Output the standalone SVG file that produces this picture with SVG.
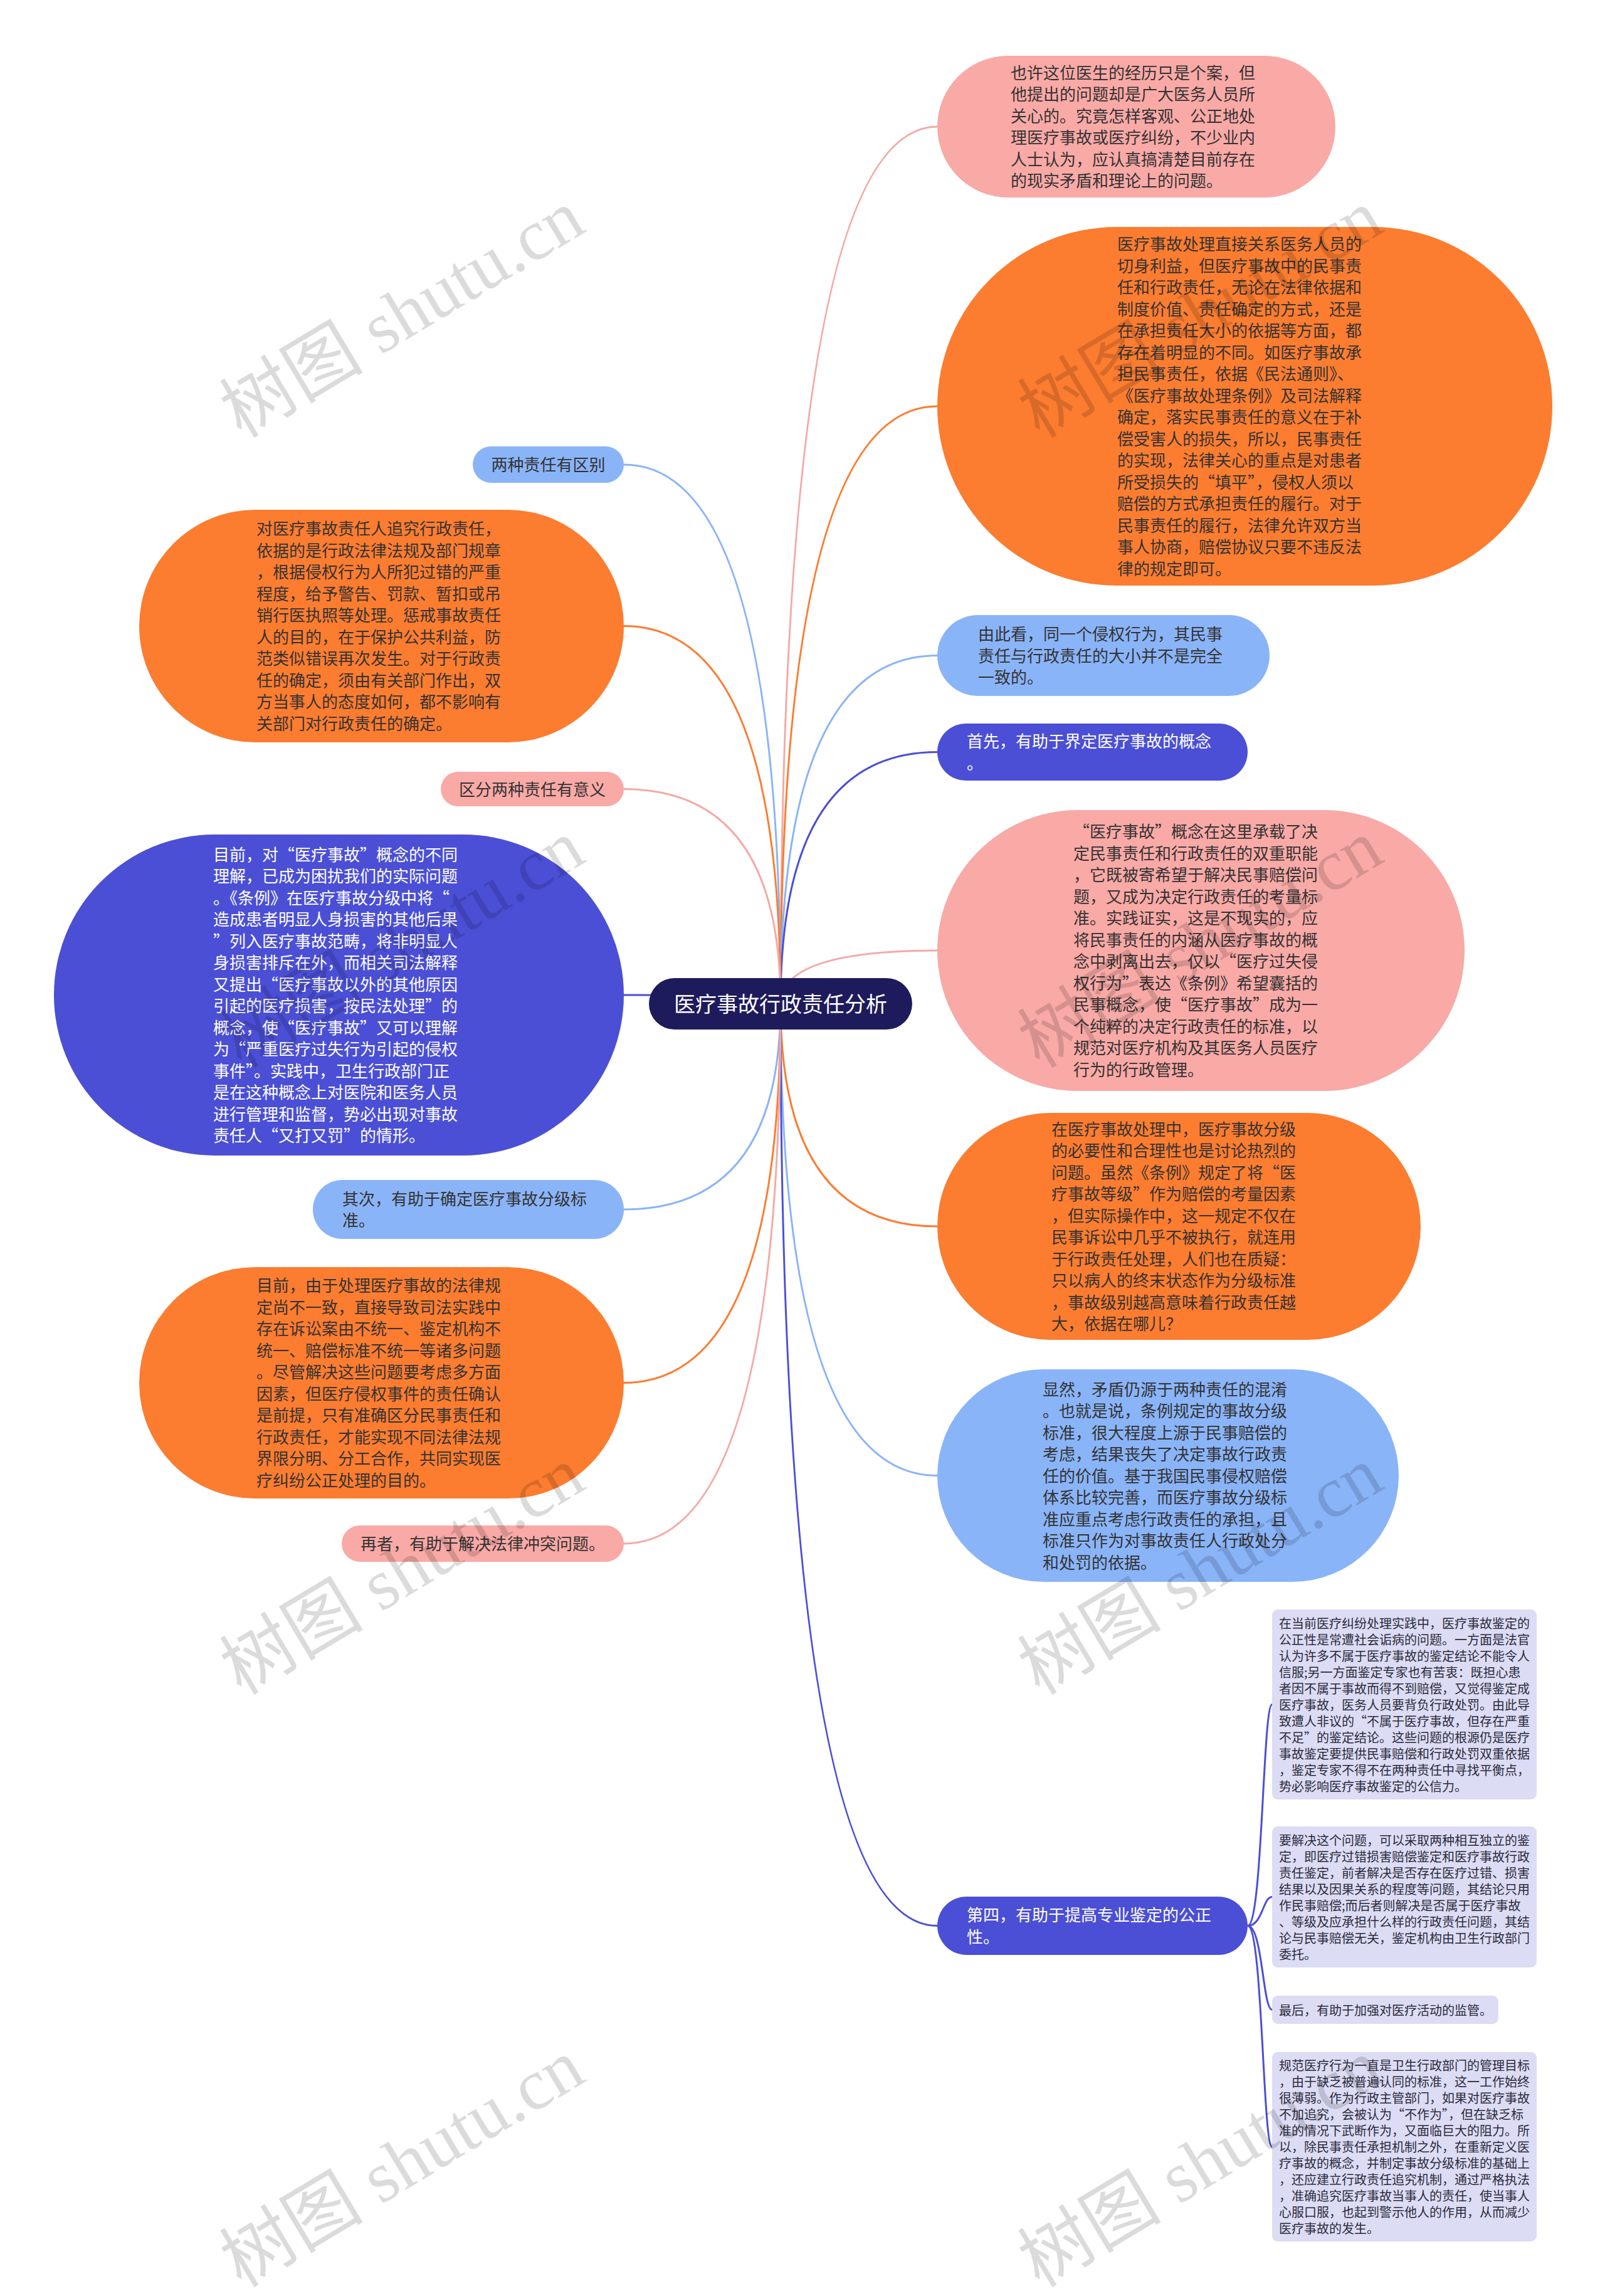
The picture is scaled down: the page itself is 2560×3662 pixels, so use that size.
<svg xmlns="http://www.w3.org/2000/svg" width="2560" height="3662" viewBox="0 0 2560 3662">
<style>
.t{font-family:"Noto Sans CJK SC","Noto Sans",sans-serif;font-size:26px;fill:#333}
.w{fill:#fff}
.s{font-size:20px;fill:#2b2b3a}
.c{fill:none;stroke-width:3}
.pk{fill:#f9a9a6}.or{fill:#fc7c30}.lb{fill:#8ab4f8}.db{fill:#4b4fd5}.sb{fill:#dcdcf5}
.wm{font-family:"Liberation Serif","Noto Sans CJK SC",serif;font-size:115px;fill:#000;fill-opacity:0.14}
</style>
<rect width="2560" height="3662" fill="#fff"/>
<g id="connectors">
<path class="c" stroke="#f4aaa5" d="M1245 1601 Q1245 202 1495 202"/>
<path class="c" stroke="#fc7c30" d="M1245 1601 Q1245 648 1495 648"/>
<path class="c" stroke="#8ab4f8" d="M1245 1601 Q1245 1045.5 1495 1045.5"/>
<path class="c" stroke="#4b4fd5" d="M1245 1601 Q1245 1199.5 1495 1199.5"/>
<path class="c" stroke="#f4aaa5" d="M1245 1601 Q1245 1516 1495 1516"/>
<path class="c" stroke="#fc7c30" d="M1245 1601 Q1245 1956 1495 1956"/>
<path class="c" stroke="#8ab4f8" d="M1245 1601 Q1245 2353.5 1495 2353.5"/>
<path class="c" stroke="#4b4fd5" d="M1245 1601 Q1245 3071.5 1495 3071.5"/>
<path class="c" stroke="#8ab4f8" d="M1245 1601 Q1245 741 995 741"/>
<path class="c" stroke="#fc7c30" d="M1245 1601 Q1245 998.5 995 998.5"/>
<path class="c" stroke="#f4aaa5" d="M1245 1601 Q1245 1258.5 995 1258.5"/>
<path class="c" stroke="#4b4fd5" d="M1245 1601 Q1245 1587 995 1587"/>
<path class="c" stroke="#8ab4f8" d="M1245 1601 Q1245 1929 995 1929"/>
<path class="c" stroke="#fc7c30" d="M1245 1601 Q1245 2205.5 995 2205.5"/>
<path class="c" stroke="#f4aaa5" d="M1245 1601 Q1245 2462 995 2462"/>
<path class="c" stroke="#4b4fd5" d="M1990 3071.5 C2014 3071.5 2014 2718.5 2029 2718.5"/>
<path class="c" stroke="#4b4fd5" d="M1990 3071.5 C2014 3071.5 2014 3025.5 2029 3025.5"/>
<path class="c" stroke="#4b4fd5" d="M1990 3071.5 C2014 3071.5 2014 3205.5 2029 3205.5"/>
<path class="c" stroke="#4b4fd5" d="M1990 3071.5 C2014 3071.5 2014 3424 2029 3424"/>
</g>
<g id="center">
<rect x="1035" y="1560" width="420" height="82" rx="41" fill="#1e1b5c"/>
<text class="t w" x="1245" y="1614" text-anchor="middle" style="font-size:34px">医疗事故行政责任分析</text>
</g>
<g id="r1">
<rect class="pk" x="1495" y="89" width="635" height="226" rx="113"/>
<text class="t"><tspan x="1612" y="125.75">也许这位医生的经历只是个案，但</tspan><tspan x="1612" y="160.25">他提出的问题却是广大医务人员所</tspan><tspan x="1612" y="194.75">关心的。究竟怎样客观、公正地处</tspan><tspan x="1612" y="229.25">理医疗事故或医疗纠纷，不少业内</tspan><tspan x="1612" y="263.75">人士认为，应认真搞清楚目前存在</tspan><tspan x="1612" y="298.25">的现实矛盾和理论上的问题。</tspan></text>
</g>
<g id="r2">
<rect class="or" x="1495" y="362" width="981" height="572" rx="286"/>
<text class="t"><tspan x="1782" y="399.25">医疗事故处理直接关系医务人员的</tspan><tspan x="1782" y="433.75">切身利益，但医疗事故中的民事责</tspan><tspan x="1782" y="468.25">任和行政责任，无论在法律依据和</tspan><tspan x="1782" y="502.75">制度价值、责任确定的方式，还是</tspan><tspan x="1782" y="537.25">在承担责任大小的依据等方面，都</tspan><tspan x="1782" y="571.75">存在着明显的不同。如医疗事故承</tspan><tspan x="1782" y="606.25">担民事责任，依据《民法通则》、</tspan><tspan x="1782" y="640.75">《医疗事故处理条例》及司法解释</tspan><tspan x="1782" y="675.25">确定，落实民事责任的意义在于补</tspan><tspan x="1782" y="709.75">偿受害人的损失，所以，民事责任</tspan><tspan x="1782" y="744.25">的实现，法律关心的重点是对患者</tspan><tspan x="1782" y="778.75">所受损失的“填平”，侵权人须以</tspan><tspan x="1782" y="813.25">赔偿的方式承担责任的履行。对于</tspan><tspan x="1782" y="847.75">民事责任的履行，法律允许双方当</tspan><tspan x="1782" y="882.25">事人协商，赔偿协议只要不违反法</tspan><tspan x="1782" y="916.75">律的规定即可。</tspan></text>
</g>
<g id="r3">
<rect class="lb" x="1495" y="981" width="530" height="129" rx="64.5"/>
<text class="t"><tspan x="1560" y="1021">由此看，同一个侵权行为，其民事</tspan><tspan x="1560" y="1055.5">责任与行政责任的大小并不是完全</tspan><tspan x="1560" y="1090">一致的。</tspan></text>
</g>
<g id="r4">
<rect class="db" x="1495" y="1154" width="495" height="91" rx="45.5"/>
<text class="t w"><tspan x="1542" y="1192.25">首先，有助于界定医疗事故的概念</tspan><tspan x="1542" y="1226.75">。</tspan></text>
</g>
<g id="r5">
<rect class="pk" x="1495" y="1292" width="841" height="448" rx="224"/>
<text class="t"><tspan x="1712" y="1336.25">“医疗事故”概念在这里承载了决</tspan><tspan x="1712" y="1370.75">定民事责任和行政责任的双重职能</tspan><tspan x="1712" y="1405.25">，它既被寄希望于解决民事赔偿问</tspan><tspan x="1712" y="1439.75">题，又成为决定行政责任的考量标</tspan><tspan x="1712" y="1474.25">准。实践证实，这是不现实的，应</tspan><tspan x="1712" y="1508.75">将民事责任的内涵从医疗事故的概</tspan><tspan x="1712" y="1543.25">念中剥离出去，仅以“医疗过失侵</tspan><tspan x="1712" y="1577.75">权行为”表达《条例》希望囊括的</tspan><tspan x="1712" y="1612.25">民事概念，使“医疗事故”成为一</tspan><tspan x="1712" y="1646.75">个纯粹的决定行政责任的标准，以</tspan><tspan x="1712" y="1681.25">规范对医疗机构及其医务人员医疗</tspan><tspan x="1712" y="1715.75">行为的行政管理。</tspan></text>
</g>
<g id="r6">
<rect class="or" x="1495" y="1775" width="771" height="362" rx="181"/>
<text class="t"><tspan x="1677" y="1810.75">在医疗事故处理中，医疗事故分级</tspan><tspan x="1677" y="1845.25">的必要性和合理性也是讨论热烈的</tspan><tspan x="1677" y="1879.75">问题。虽然《条例》规定了将“医</tspan><tspan x="1677" y="1914.25">疗事故等级”作为赔偿的考量因素</tspan><tspan x="1677" y="1948.75">，但实际操作中，这一规定不仅在</tspan><tspan x="1677" y="1983.25">民事诉讼中几乎不被执行，就连用</tspan><tspan x="1677" y="2017.75">于行政责任处理，人们也在质疑：</tspan><tspan x="1677" y="2052.25">只以病人的终末状态作为分级标准</tspan><tspan x="1677" y="2086.75">，事故级别越高意味着行政责任越</tspan><tspan x="1677" y="2121.25">大，依据在哪儿？</tspan></text>
</g>
<g id="r7">
<rect class="lb" x="1495" y="2184" width="736" height="339" rx="169.5"/>
<text class="t"><tspan x="1663" y="2225.5">显然，矛盾仍源于两种责任的混淆</tspan><tspan x="1663" y="2260">。也就是说，条例规定的事故分级</tspan><tspan x="1663" y="2294.5">标准，很大程度上源于民事赔偿的</tspan><tspan x="1663" y="2329">考虑，结果丧失了决定事故行政责</tspan><tspan x="1663" y="2363.5">任的价值。基于我国民事侵权赔偿</tspan><tspan x="1663" y="2398">体系比较完善，而医疗事故分级标</tspan><tspan x="1663" y="2432.5">准应重点考虑行政责任的承担，且</tspan><tspan x="1663" y="2467">标准只作为对事故责任人行政处分</tspan><tspan x="1663" y="2501.5">和处罚的依据。</tspan></text>
</g>
<g id="r8">
<rect class="db" x="1495" y="3025" width="495" height="93" rx="46.5"/>
<text class="t w"><tspan x="1542" y="3064.25">第四，有助于提高专业鉴定的公正</tspan><tspan x="1542" y="3098.75">性。</tspan></text>
</g>
<g id="s1">
<rect class="sb" x="2029" y="2567" width="422" height="303" rx="9"/>
<text class="t s"><tspan x="2040" y="2596.5">在当前医疗纠纷处理实践中，医疗事故鉴定的</tspan><tspan x="2040" y="2622.5">公正性是常遭社会诟病的问题。一方面是法官</tspan><tspan x="2040" y="2648.5">认为许多不属于医疗事故的鉴定结论不能令人</tspan><tspan x="2040" y="2674.5">信服;另一方面鉴定专家也有苦衷：既担心患</tspan><tspan x="2040" y="2700.5">者因不属于事故而得不到赔偿，又觉得鉴定成</tspan><tspan x="2040" y="2726.5">医疗事故，医务人员要背负行政处罚。由此导</tspan><tspan x="2040" y="2752.5">致遭人非议的“不属于医疗事故，但存在严重</tspan><tspan x="2040" y="2778.5">不足”的鉴定结论。这些问题的根源仍是医疗</tspan><tspan x="2040" y="2804.5">事故鉴定要提供民事赔偿和行政处罚双重依据</tspan><tspan x="2040" y="2830.5">，鉴定专家不得不在两种责任中寻找平衡点，</tspan><tspan x="2040" y="2856.5">势必影响医疗事故鉴定的公信力。</tspan></text>
</g>
<g id="s2">
<rect class="sb" x="2029" y="2913" width="422" height="225" rx="9"/>
<text class="t s"><tspan x="2040" y="2942.5">要解决这个问题，可以采取两种相互独立的鉴</tspan><tspan x="2040" y="2968.5">定，即医疗过错损害赔偿鉴定和医疗事故行政</tspan><tspan x="2040" y="2994.5">责任鉴定，前者解决是否存在医疗过错、损害</tspan><tspan x="2040" y="3020.5">结果以及因果关系的程度等问题，其结论只用</tspan><tspan x="2040" y="3046.5">作民事赔偿;而后者则解决是否属于医疗事故</tspan><tspan x="2040" y="3072.5">、等级及应承担什么样的行政责任问题，其结</tspan><tspan x="2040" y="3098.5">论与民事赔偿无关，鉴定机构由卫生行政部门</tspan><tspan x="2040" y="3124.5">委托。</tspan></text>
</g>
<g id="s3">
<rect class="sb" x="2029" y="3183" width="361" height="45" rx="9"/>
<text class="t s" x="2040" y="3213.5">最后，有助于加强对医疗活动的监管。</text>
</g>
<g id="s4">
<rect class="sb" x="2029" y="3273" width="422" height="302" rx="9"/>
<text class="t s"><tspan x="2040" y="3302">规范医疗行为一直是卫生行政部门的管理目标</tspan><tspan x="2040" y="3328">，由于缺乏被普遍认同的标准，这一工作始终</tspan><tspan x="2040" y="3354">很薄弱。作为行政主管部门，如果对医疗事故</tspan><tspan x="2040" y="3380">不加追究，会被认为“不作为”，但在缺乏标</tspan><tspan x="2040" y="3406">准的情况下武断作为，又面临巨大的阻力。所</tspan><tspan x="2040" y="3432">以，除民事责任承担机制之外，在重新定义医</tspan><tspan x="2040" y="3458">疗事故的概念，并制定事故分级标准的基础上</tspan><tspan x="2040" y="3484">，还应建立行政责任追究机制，通过严格执法</tspan><tspan x="2040" y="3510">，准确追究医疗事故当事人的责任，使当事人</tspan><tspan x="2040" y="3536">心服口服，也起到警示他人的作用，从而减少</tspan><tspan x="2040" y="3562">医疗事故的发生。</tspan></text>
</g>
<g id="l1">
<rect class="lb" x="754" y="712" width="241" height="58" rx="29"/>
<text class="t" x="874.5" y="751" text-anchor="middle">两种责任有区别</text>
</g>
<g id="l2">
<rect class="or" x="222" y="813" width="773" height="371" rx="185.5"/>
<text class="t"><tspan x="409" y="853.25">对医疗事故责任人追究行政责任，</tspan><tspan x="409" y="887.75">依据的是行政法律法规及部门规章</tspan><tspan x="409" y="922.25">，根据侵权行为人所犯过错的严重</tspan><tspan x="409" y="956.75">程度，给予警告、罚款、暂扣或吊</tspan><tspan x="409" y="991.25">销行医执照等处理。惩戒事故责任</tspan><tspan x="409" y="1025.75">人的目的，在于保护公共利益，防</tspan><tspan x="409" y="1060.25">范类似错误再次发生。对于行政责</tspan><tspan x="409" y="1094.75">任的确定，须由有关部门作出，双</tspan><tspan x="409" y="1129.25">方当事人的态度如何，都不影响有</tspan><tspan x="409" y="1163.75">关部门对行政责任的确定。</tspan></text>
</g>
<g id="l3">
<rect class="pk" x="703" y="1231" width="292" height="55" rx="27.5"/>
<text class="t" x="849" y="1268.5" text-anchor="middle">区分两种责任有意义</text>
</g>
<g id="l4">
<rect class="db" x="86" y="1331" width="909" height="512" rx="256"/>
<text class="t w"><tspan x="340" y="1372.75">目前，对“医疗事故”概念的不同</tspan><tspan x="340" y="1407.25">理解，已成为困扰我们的实际问题</tspan><tspan x="340" y="1441.75">。《条例》在医疗事故分级中将“</tspan><tspan x="340" y="1476.25">造成患者明显人身损害的其他后果</tspan><tspan x="340" y="1510.75">”列入医疗事故范畴，将非明显人</tspan><tspan x="340" y="1545.25">身损害排斥在外，而相关司法解释</tspan><tspan x="340" y="1579.75">又提出“医疗事故以外的其他原因</tspan><tspan x="340" y="1614.25">引起的医疗损害，按民法处理”的</tspan><tspan x="340" y="1648.75">概念，使“医疗事故”又可以理解</tspan><tspan x="340" y="1683.25">为“严重医疗过失行为引起的侵权</tspan><tspan x="340" y="1717.75">事件”。实践中，卫生行政部门正</tspan><tspan x="340" y="1752.25">是在这种概念上对医院和医务人员</tspan><tspan x="340" y="1786.75">进行管理和监督，势必出现对事故</tspan><tspan x="340" y="1821.25">责任人“又打又罚”的情形。</tspan></text>
</g>
<g id="l5">
<rect class="lb" x="499" y="1882" width="496" height="94" rx="47"/>
<text class="t"><tspan x="546" y="1921.75">其次，有助于确定医疗事故分级标</tspan><tspan x="546" y="1956.25">准。</tspan></text>
</g>
<g id="l6">
<rect class="or" x="222" y="2021" width="773" height="369" rx="184.5"/>
<text class="t"><tspan x="409" y="2060.25">目前，由于处理医疗事故的法律规</tspan><tspan x="409" y="2094.75">定尚不一致，直接导致司法实践中</tspan><tspan x="409" y="2129.25">存在诉讼案由不统一、鉴定机构不</tspan><tspan x="409" y="2163.75">统一、赔偿标准不统一等诸多问题</tspan><tspan x="409" y="2198.25">。尽管解决这些问题要考虑多方面</tspan><tspan x="409" y="2232.75">因素，但医疗侵权事件的责任确认</tspan><tspan x="409" y="2267.25">是前提，只有准确区分民事责任和</tspan><tspan x="409" y="2301.75">行政责任，才能实现不同法律法规</tspan><tspan x="409" y="2336.25">界限分明、分工合作，共同实现医</tspan><tspan x="409" y="2370.75">疗纠纷公正处理的目的。</tspan></text>
</g>
<g id="l7">
<rect class="pk" x="545" y="2433" width="450" height="58" rx="29"/>
<text class="t" x="770" y="2472" text-anchor="middle">再者，有助于解决法律冲突问题。</text>
</g>
<g id="watermark">
<text class="wm" transform="translate(385 700) rotate(-31)">树图 shutu.cn</text>
<text class="wm" transform="translate(1658 700) rotate(-31)">树图 shutu.cn</text>
<text class="wm" transform="translate(385 1705) rotate(-31)">树图 shutu.cn</text>
<text class="wm" transform="translate(1658 1705) rotate(-31)">树图 shutu.cn</text>
<text class="wm" transform="translate(385 2705) rotate(-31)">树图 shutu.cn</text>
<text class="wm" transform="translate(1658 2705) rotate(-31)">树图 shutu.cn</text>
<text class="wm" transform="translate(385 3650) rotate(-31)">树图 shutu.cn</text>
<text class="wm" transform="translate(1658 3650) rotate(-31)">树图 shutu.cn</text>
</g>
</svg>
